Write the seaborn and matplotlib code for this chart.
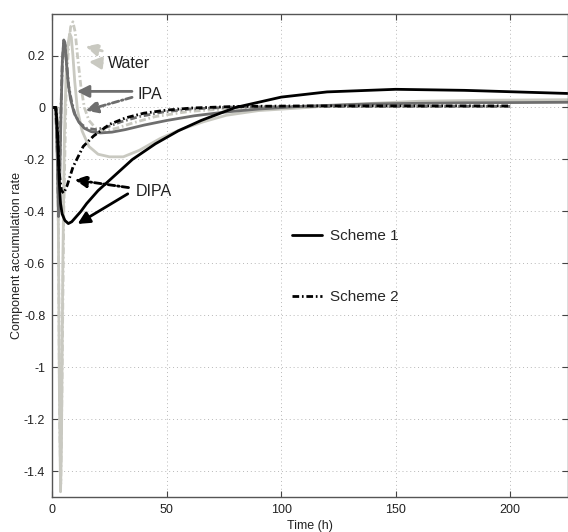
import pandas as pd
import matplotlib
matplotlib.use('Agg')
import matplotlib.pyplot as plt
import seaborn as sns

# time (h) and accumulation rate
water_s1_t = [0, 2, 2.6, 3.1, 3.6, 4.0, 4.6, 5.3, 6.0, 6.8, 7.6, 8.3, 9.0, 9.8, 11, 13, 16, 20, 25, 31, 38,
              47, 56, 66, 76, 90, 108, 130, 160, 190, 225]
water_s1_y = [0, 0, -0.4, -1.1, -1.48, -1.3, -0.6, -0.1, 0.12, 0.24, 0.285, 0.27, 0.2, 0.1, -0.01, -0.09,
              -0.15, -0.18, -0.19, -0.19, -0.165, -0.12, -0.085, -0.055, -0.03, -0.012, -0.002, 0.012,
              0.024, 0.028, 0.03]
water_s2_t = [0, 2, 2.7, 3.2, 3.7, 4.2, 5, 6, 7, 8, 9, 10, 11, 12.5, 14, 16, 19, 23, 28, 35, 45, 60, 80,
              110, 150, 200]
water_s2_y = [0, 0, -0.5, -1.2, -1.45, -1.1, -0.4, 0.05, 0.22, 0.31, 0.33, 0.29, 0.2, 0.08, 0.0, -0.05,
              -0.08, -0.09, -0.08, -0.06, -0.035, -0.015, -0.003, 0.003, 0.004, 0.004]
ipa_s1_t = [0, 1.5, 2.2, 2.7, 3.2, 3.8, 4.4, 5.0, 5.5, 6.2, 7, 8, 9.5, 11.5, 14, 17, 21, 26, 32, 40, 50,
            62, 75, 90, 110, 140, 180, 225]
ipa_s1_y = [0, 0, -0.2, -0.42, -0.3, -0.02, 0.18, 0.26, 0.25, 0.17, 0.09, 0.03, -0.02, -0.055, -0.08,
            -0.093, -0.098, -0.095, -0.085, -0.068, -0.05, -0.032, -0.018, -0.006, 0.005, 0.014, 0.018,
            0.02]
ipa_s2_t = [0, 1.5, 2.2, 2.7, 3.2, 3.8, 4.4, 5, 5.6, 6.3, 7.2, 8.5, 10, 12, 15, 19, 24, 30, 38, 48, 60,
            80, 110, 150, 200]
ipa_s2_y = [0, 0, -0.18, -0.38, -0.25, 0.0, 0.18, 0.25, 0.24, 0.16, 0.08, 0.02, -0.03, -0.06, -0.08,
            -0.085, -0.075, -0.055, -0.035, -0.018, -0.006, 0.002, 0.004, 0.004, 0.004]
dipa_s1_t = [0, 1.5, 2.0, 2.5, 3.0, 3.6, 4.3, 5.5, 7, 8.5, 10, 12.5, 15, 20, 25, 30, 35, 45, 55, 65, 80,
             100, 120, 150, 180, 225]
dipa_s1_y = [0, 0, -0.05, -0.16, -0.28, -0.37, -0.41, -0.435, -0.447, -0.44, -0.425, -0.4, -0.37, -0.32,
             -0.28, -0.24, -0.2, -0.14, -0.09, -0.05, 0.0, 0.04, 0.06, 0.07, 0.066, 0.054]
dipa_s2_t = [0, 1.5, 2.3, 3, 4, 5, 6.5, 9, 13.5, 18, 25, 32, 40, 50, 61, 80, 110, 150, 200]
dipa_s2_y = [0, 0, -0.1, -0.25, -0.32, -0.33, -0.30, -0.23, -0.15, -0.11, -0.065, -0.04, -0.022, -0.01,
             -0.002, 0.004, 0.006, 0.006, 0.006]

black = '#000000'
dark = '#6e6e6e'
light = '#c9c9c1'
dashdot = (0, (2.4, 1.0, 0.6, 1.0))

sns.set_style('white')
plt.rcParams['font.family'] = ['Liberation Sans', 'DejaVu Sans']

fig = plt.figure(figsize=(5.68, 5.32), dpi=100)
ax = fig.add_axes([52.3 / 568, 35 / 532, 515.2 / 568, 483 / 532])

sns.lineplot(x=water_s1_t, y=water_s1_y, color=light, lw=2, ax=ax)
sns.lineplot(x=water_s2_t, y=water_s2_y, color=light, lw=2, linestyle=dashdot, ax=ax)
sns.lineplot(x=ipa_s1_t, y=ipa_s1_y, color=dark, lw=2, ax=ax)
sns.lineplot(x=ipa_s2_t, y=ipa_s2_y, color=dark, lw=2, linestyle=dashdot, ax=ax)
sns.lineplot(x=dipa_s1_t, y=dipa_s1_y, color=black, lw=2, ax=ax, label='Scheme 1')
sns.lineplot(x=dipa_s2_t, y=dipa_s2_y, color=black, lw=2, linestyle=dashdot, ax=ax, label='Scheme 2')

ax.set_xlim(0, 225)
ax.set_ylim(-1.5, 0.36)
ax.set_xticks([0, 50, 100, 150, 200])
ax.set_yticks([-1.4, -1.2, -1, -0.8, -0.6, -0.4, -0.2, 0, 0.2])
ax.yaxis.set_major_formatter(matplotlib.ticker.FormatStrFormatter('%g'))
ax.grid(True, linestyle=(0, (1, 3)), color='#b8b8b8', lw=0.7)
ax.tick_params(direction='in', bottom=True, left=True, top=True, right=True, length=4, width=0.8,
               colors='#444444', labelcolor='#222222', labelsize=9, pad=5)
for s in ax.spines.values():
    s.set_color('#555555')
    s.set_linewidth(1)

ax.set_xlabel('Time (h)', fontsize=9, labelpad=3, color='#222222')
ax.set_ylabel('Component accumulation rate', fontsize=9, labelpad=1, color='#222222')

# arrows and labels
ax.annotate('', xy=(13.4, 0.238), xytext=(23, 0.215),
            arrowprops=dict(arrowstyle='-|>', color=light, lw=2, linestyle=dashdot, mutation_scale=18))
ax.annotate('', xy=(14.8, 0.177), xytext=(23, 0.17),
            arrowprops=dict(arrowstyle='-|>', color=light, lw=2, mutation_scale=18))
ax.text(24.3, 0.17, 'Water', fontsize=11.5, ha='left', va='center', color='#222222')

ax.annotate('', xy=(9.5, 0.062), xytext=(36, 0.062),
            arrowprops=dict(arrowstyle='-|>', color=dark, lw=2, mutation_scale=18))
ax.annotate('', xy=(13.4, -0.015), xytext=(36, 0.042),
            arrowprops=dict(arrowstyle='-|>', color=dark, lw=2, linestyle=dashdot, mutation_scale=18))
ax.text(37.4, 0.05, 'IPA', fontsize=11.5, ha='left', va='center', color='#222222')

ax.annotate('', xy=(8.6, -0.277), xytext=(34.5, -0.31),
            arrowprops=dict(arrowstyle='-|>', color=black, lw=2, linestyle=dashdot, mutation_scale=18))
ax.annotate('', xy=(10, -0.454), xytext=(34, -0.327),
            arrowprops=dict(arrowstyle='-|>', color=black, lw=2, mutation_scale=18))
ax.text(36.5, -0.323, 'DIPA', fontsize=11.5, ha='left', va='center', color='#222222')

ax.legend(loc='upper left', bbox_to_anchor=(0.465, 0.555), frameon=False, fontsize=11,
          handlelength=2.0, handletextpad=0.5, labelspacing=3.1, borderpad=0, borderaxespad=0)

fig.savefig('out.png', dpi=100)
